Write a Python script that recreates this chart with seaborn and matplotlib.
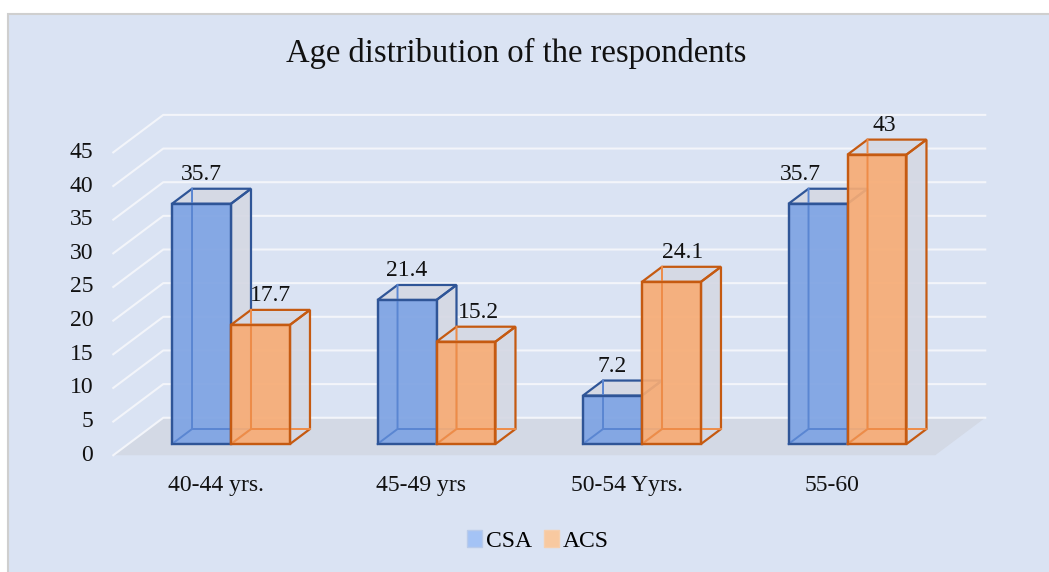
import numpy as np
import pandas as pd
import matplotlib.pyplot as plt
from matplotlib.patches import Polygon, Rectangle, Patch
import seaborn as sns

# data
ages = ['40-44 yrs.', '45-49 yrs', '50-54 Yyrs.', '55-60']
csa = [35.7, 21.4, 7.2, 35.7]
acs = [17.7, 15.2, 24.1, 43]
groups = ['CSA', 'ACS']
y_ticks = list(range(0, 50, 5))

df = pd.DataFrame({'age': ages * 2,
                   'pct': csa + acs,
                   'group': ['CSA'] * len(ages) + ['ACS'] * len(ages)})

# styling
FONT = 'Liberation Serif'
FS = 17
front_fill = {'CSA': '#7EA3E3', 'ACS': '#F7AC75'}
edge_dark = {'CSA': '#2F5597', 'ACS': '#C55A11'}
edge_light = {'CSA': '#5A86D2', 'ACS': '#EE8C48'}
legend_fill = {'CSA': '#A4C3F5', 'ACS': '#F8C9A0'}
face_grey = '#D5D8E3'
floor_col = '#D3D9E5'
grid_col = '#F3F5FA'
bg = '#DAE3F3'

W, H, DPI = 1049, 572, 100
PX_X, PX_Y = 205.5, 6.73          # pixels per category / per unit
X0_PX, Y0_PX = 231, 444           # pixel pos of category 0 / value 0
dx, dy = 20 / PX_X, 15 / PX_Y     # bar depth in data units

fig = plt.figure(figsize=(W / DPI, H / DPI), dpi=DPI, facecolor='white')
fig.patches.append(Rectangle((8 / W, -0.1), 1.2, 1.1 - 14 / H, transform=fig.transFigure,
                             facecolor=bg, edgecolor='#CFCFCF', lw=1.5, zorder=-5))
ax = fig.add_axes([0, 0, 1, 1])
ax.set_zorder(1)
ax.patch.set_alpha(0)

sns.barplot(df, x='age', y='pct', hue='group', hue_order=groups,
            palette=front_fill, width=0.574, saturation=1, errorbar=None,
            legend=False, ax=ax)

ax.set_xlim(-X0_PX / PX_X, (W - X0_PX) / PX_X)
ax.set_ylim((Y0_PX - H) / PX_Y, Y0_PX / PX_Y)
ax.set_axis_off()

# floor
left, right = -0.5, len(ages) - 0.5
f, b = -0.75, 1.75
ax.add_patch(Polygon([(left + f * dx, f * dy), (right + f * dx, f * dy),
                      (right + b * dx, b * dy), (left + b * dx, b * dy)],
                     closed=True, facecolor=floor_col, edgecolor='none', zorder=1))

# gridlines on left and back walls + tick labels
for v in y_ticks:
    ax.plot([left + f * dx, left + b * dx, right + b * dx],
            [v + f * dy, v + b * dy, v + b * dy], color=grid_col, lw=1.5, zorder=2)
    ax.annotate(str(v), (left + f * dx, v + f * dy), xytext=(-20, 0),
                textcoords='offset pixels', ha='right', va='center',
                fontsize=FS, family=FONT, color='#111111')

# category labels
for i, lab in enumerate(ages):
    ax.annotate(lab, (i + f * dx, f * dy), xytext=(0, -30), textcoords='offset pixels',
                ha='center', va='center', fontsize=FS, family=FONT, color='#111111')

# 3d boxes
label_dx_px = {'CSA': [0, 0, 0, -18], 'ACS': [10, 12, 11, 7]}
order = 0
for i in range(len(ages)):
    for j, g in enumerate(groups):
        bar = ax.containers[j][i]
        x0, w, h = bar.get_x(), bar.get_width(), bar.get_height()
        x1 = x0 + w
        z = 10 + 5 * order
        side = [(x1, 0), (x1 + dx, dy), (x1 + dx, h + dy), (x1, h)]
        top = [(x0, h), (x0 + dx, h + dy), (x1 + dx, h + dy), (x1, h)]
        for pts in (side, top):
            ax.add_patch(Polygon(pts, closed=True, facecolor=face_grey, alpha=0.9,
                                 edgecolor='none', zorder=z))
            ax.add_patch(Polygon(pts, closed=True, facecolor='none',
                                 edgecolor=edge_dark[g], lw=1.6, zorder=z + 1,
                                 joinstyle='miter'))
        bar.set_zorder(z + 2)
        bar.set_alpha(0.92)
        bar.set_edgecolor(edge_dark[g])
        bar.set_linewidth(1.6)
        # hidden edges seen through the front face
        ax.plot([x0, x0 + dx, x0 + dx], [0, dy, h + dy], color=edge_light[g],
                lw=1.4, zorder=z + 3)
        ax.plot([x0 + dx, x1 + dx], [dy, dy], color=edge_light[g], lw=1.4, zorder=z + 3)
        # outline of front face again, on top
        ax.add_patch(Rectangle((x0, 0), w, h, facecolor='none', edgecolor=edge_dark[g],
                               lw=1.6, zorder=z + 4))
        ax.annotate(f'{h:g}', (x0 + w / 2, h + dy),
                    xytext=(label_dx_px[g][i], 9), textcoords='offset pixels',
                    ha='center', va='baseline', fontsize=FS, family=FONT,
                    color='#111111', zorder=100)
        order += 1

fig.text(516.5 / W, 1 - 53 / H, 'Age distribution of the respondents', ha='center',
         va='center', fontsize=23.5, family=FONT, color='#111111')

handles = [Patch(facecolor=legend_fill[g], edgecolor='#B9CBEA' if g == 'CSA' else '#F6CFAE',
                 label=g) for g in groups]
fig.legend(handles=handles, loc='center', bbox_to_anchor=(538 / W, 1 - 541 / H), ncol=2,
           frameon=False, prop={'family': FONT, 'size': FS}, handlelength=0.62,
           handleheight=0.7, handletextpad=0.15, columnspacing=0.55)

fig.savefig('out.png', dpi=DPI, facecolor=fig.get_facecolor())
